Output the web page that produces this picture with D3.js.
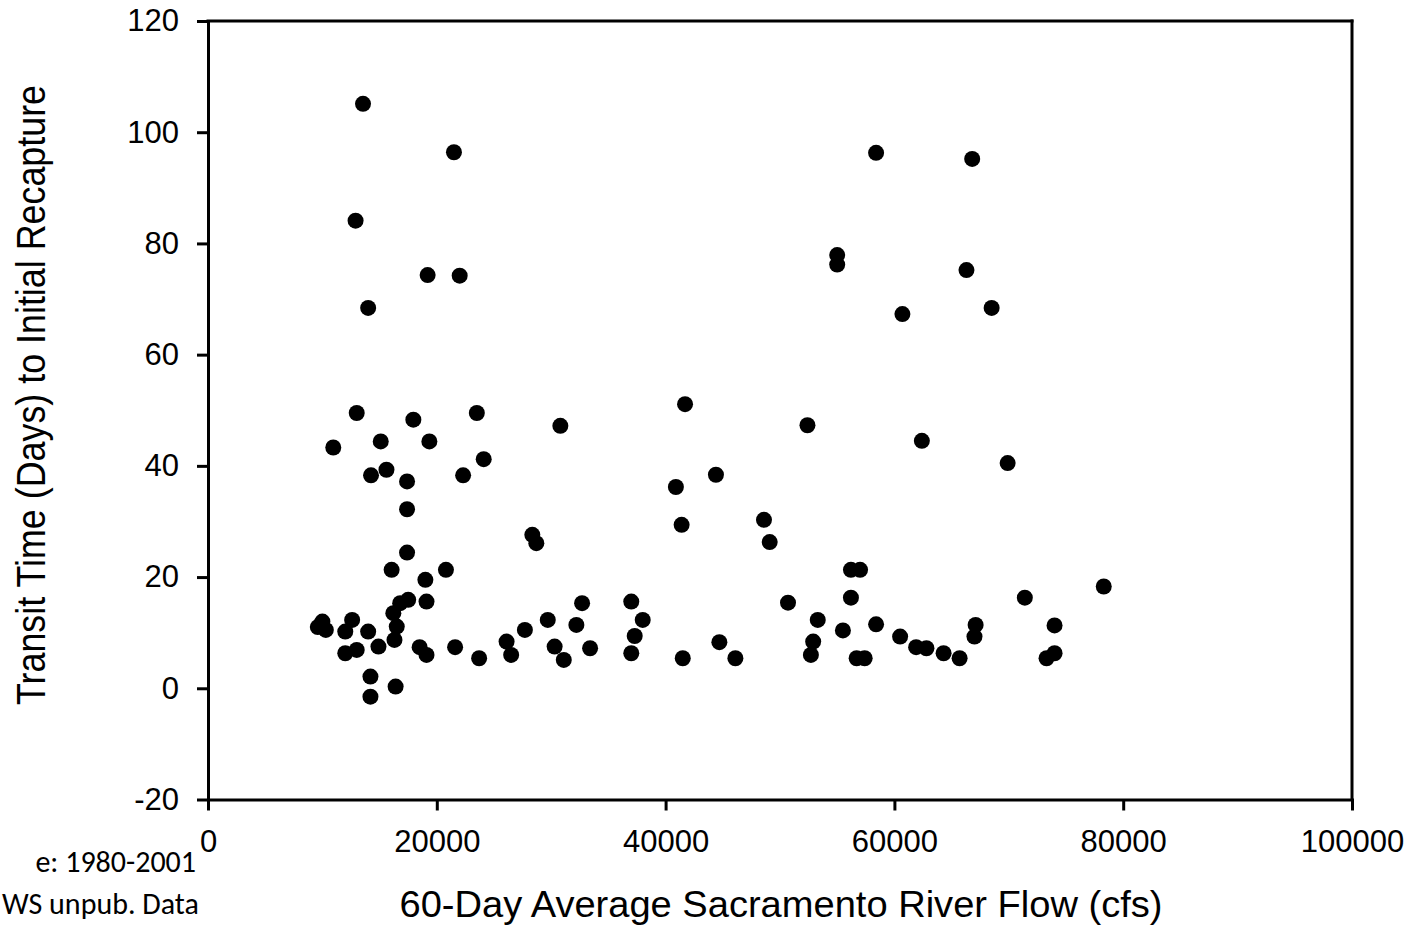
<!DOCTYPE html>
<html>
<head>
<meta charset="utf-8">
<script src="https://cdn.jsdelivr.net/npm/d3@7"></script>
<style>
	body { margin: 0; background: #fff; }
	svg { display: block; }
	.axis text { font-family: "Liberation Sans", Arial, sans-serif; font-size: 31px; fill: #000; }
	.axis line, .axis path { stroke: #000; stroke-width: 3; }
	.title { font-family: "Liberation Sans", Arial, sans-serif; font-size: 36px; fill: #000; }
	.note { font-family: Carlito, Calibri, "Open Sans", sans-serif; font-size: 30px; fill: #000; }
</style>
</head>
<body>
<svg id="chart" width="1406" height="925"></svg>
<script>
// 60-day average Sacramento River flow (cfs) for each release
const flowCfs = [
	13550, 21500, 58400, 66800, 12900, 19200, 22000, 55000, 55000, 66300, 14000, 60700, 68500,
	13000, 10950, 17950, 23500, 15100, 19350, 24100, 30800, 14250, 15600, 17400, 22300, 17400,
	28350, 28700, 17400, 16050, 20800, 19000,
	40900, 41700, 41400, 44400, 48600, 49100, 52400, 62400, 69900, 78300, 71400,
	56200, 57000, 50700, 56200, 38000, 53300, 58400, 55500, 60500, 74000, 67100, 67000,
	52900, 52700, 44700, 41500, 46100, 56700, 57400, 61900, 62800, 64300, 65700, 73300, 74000,
	9600, 10000, 10300, 12600, 12000, 12000, 13000, 14000, 14900, 16800, 16200, 16500, 16300,
	17500, 19100, 18500, 19100, 21600, 23700, 26100, 26500, 27700, 29700, 32200, 32700, 30300,
	31100, 33400, 37000, 37300, 37000,
	14200, 14200, 16400
];
// transit time (days) from release to first recapture, same order
const transitDays = [
	105.1, 96.4, 96.3, 95.2, 84.1, 74.3, 74.2, 77.9, 76.2, 75.2, 68.4, 67.3, 68.4,
	49.5, 43.3, 48.3, 49.5, 44.4, 44.4, 41.2, 47.2, 38.3, 39.3, 37.2, 38.3, 32.2,
	27.6, 26.1, 24.4, 21.3, 21.3, 19.5,
	36.2, 51.1, 29.4, 38.4, 30.3, 26.3, 47.3, 44.5, 40.5, 18.3, 16.3,
	21.3, 21.3, 15.4, 16.3, 12.3, 12.3, 11.5, 10.4, 9.3, 11.3, 11.4, 9.3,
	8.4, 6.0, 8.3, 5.4, 5.4, 5.4, 5.4, 7.4, 7.2, 6.3, 5.4, 5.4, 6.3,
	11.0, 12.0, 10.5, 12.3, 10.2, 6.3, 6.9, 10.2, 7.5, 15.3, 13.5, 11.1, 8.7,
	15.9, 15.6, 7.4, 6.0, 7.4, 5.4, 8.4, 6.0, 10.5, 12.3, 11.4, 15.3, 7.5,
	5.1, 7.2, 15.6, 9.4, 6.3,
	2.1, -1.5, 0.3
];
const xTicks = [0, 20000, 40000, 60000, 80000, 100000];
const yTicks = [-20, 0, 20, 40, 60, 80, 100, 120];

const width = 1406, height = 925;
const margin = { top: 21, right: 54, bottom: 125.5, left: 208 };

const svg = d3.select("#chart");

const x = d3.scaleLinear().domain([0, 100000]).range([margin.left, width - margin.right]);
const y = d3.scaleLinear().domain([-20, 120]).range([height - margin.bottom, margin.top]);

// plain hyphen for negatives, no thousands separator
const plain = d => String(d);

// axes: ticks stick out of the frame
svg.append("g")
	.attr("class", "axis")
	.attr("transform", `translate(0,${y(-20)})`)
	.call(d3.axisBottom(x).tickValues(xTicks).tickFormat(plain).tickSize(11).tickSizeOuter(0).tickPadding(19))
	.call(g => g.select(".domain").attr("stroke-linecap", "square"));

svg.append("g")
	.attr("class", "axis")
	.attr("transform", `translate(${x(0)},0)`)
	.call(d3.axisLeft(y).tickValues(yTicks).tickFormat(plain).tickSize(11).tickSizeOuter(0).tickPadding(18))
	.call(g => g.select(".domain").attr("stroke-linecap", "square"));

// closing lines of the frame (top and right)
const frame = svg.append("g").attr("stroke", "#000").attr("stroke-width", 3).attr("stroke-linecap", "square");
frame.append("line").attr("x1", x(0)).attr("x2", x(100000)).attr("y1", y(120)).attr("y2", y(120));
frame.append("line").attr("x1", x(100000)).attr("x2", x(100000)).attr("y1", y(120)).attr("y2", y(-20));

const points = d3.zip(flowCfs, transitDays);

svg.append("g")
	.selectAll("circle")
	.data(points)
	.join("circle")
	.attr("cx", d => x(d[0]))
	.attr("cy", d => y(d[1]))
	.attr("r", 8)
	.attr("fill", "#000");

// axis titles
svg.append("text")
	.attr("class", "title")
	.attr("x", (x(0) + x(100000)) / 2 + 1)
	.attr("y", 917)
	.attr("text-anchor", "middle")
	.attr("textLength", 763)
	.attr("lengthAdjust", "spacingAndGlyphs")
	.text("60-Day Average Sacramento River Flow (cfs)");

svg.append("text")
	.attr("class", "title")
	.attr("transform", "translate(45,395) scale(1.12,1) rotate(-90)")
	.attr("text-anchor", "middle")
	.attr("textLength", 620)
	.attr("lengthAdjust", "spacingAndGlyphs")
	.text("Transit Time (Days) to Initial Recapture");

// source notes in the lower left corner
svg.append("text")
	.attr("class", "note")
	.attr("x", 196)
	.attr("y", 872)
	.attr("text-anchor", "end")
	.text("e: 1980-2001");

svg.append("text")
	.attr("class", "note")
	.attr("x", 2)
	.attr("y", 914)
	.text("WS unpub. Data");
</script>
</body>
</html>
